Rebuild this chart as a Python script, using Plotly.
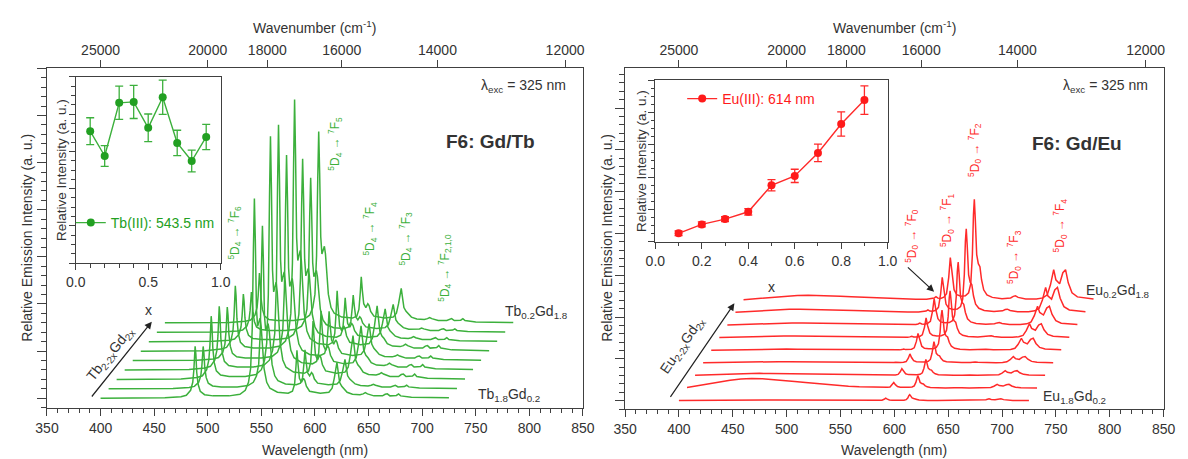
import numpy as np
import plotly.graph_objects as go

W, H = 1188, 459

# ---------------- data ----------------
x_frac = [0.1, 0.2, 0.3, 0.4, 0.5, 0.6, 0.7, 0.8, 0.9]
tb_inset = [7.08, 5.75, 8.60, 8.65, 7.26, 8.90, 6.45, 5.48, 6.77]
tb_inset_err = [0.72, 0.56, 0.89, 0.89, 0.74, 0.92, 0.68, 0.58, 0.68]
eu_inset = [0.52, 1.07, 1.40, 1.85, 3.49, 4.07, 5.49, 7.28, 8.76]
eu_inset_err = [0.15, 0.15, 0.15, 0.20, 0.35, 0.41, 0.54, 0.75, 0.88]

# Tb(III) emission profile (unshifted wavelength, intensity relative to 543.5 nm line)
tb_wl = [400, 460, 475, 480, 484, 486, 487, 487.6, 488.2, 488.9, 489.7, 491, 493, 497, 505,
         520, 530, 535, 538, 540, 541.5, 542.6, 543.5, 544.4, 545.4, 546.5, 547.8, 548.8,
         549.8, 551, 552.5, 555, 558, 565, 575, 579, 581, 582.3, 583.2, 584.2, 585.5, 587.5,
         589.3, 590.5, 592, 595, 605, 613, 616, 618, 619.5, 620.5, 621.5, 623, 625, 627, 630,
         635, 642, 645, 647, 649, 655, 663, 665.5, 667.5, 670, 676, 678, 680, 690, 725]
tb_rel = [0.0, 0.002, 0.008, 0.015, 0.04, 0.08, 0.14, 0.21, 0.26, 0.22, 0.13, 0.07, 0.035, 0.018, 0.012,
          0.012, 0.02, 0.04, 0.08, 0.15, 0.35, 0.75, 1.0, 0.78, 0.45, 0.36, 0.38, 0.40,
          0.36, 0.25, 0.15, 0.08, 0.05, 0.03, 0.025, 0.035, 0.07, 0.16, 0.24, 0.17, 0.10, 0.08,
          0.10, 0.09, 0.06, 0.035, 0.025, 0.03, 0.05, 0.10, 0.16, 0.18, 0.14, 0.08, 0.06, 0.05, 0.03,
          0.02, 0.018, 0.022, 0.028, 0.022, 0.012, 0.012, 0.02, 0.022, 0.012, 0.014, 0.022, 0.012, 0.005, 0.002]
tb_peak_height = [21.2, 17.3, 25.8, 26.0, 21.8, 26.7, 19.4, 16.4, 20.3]

# Eu(III) emission profile (unshifted wavelength, relative to 614 nm line) + broad host band
eu_wl = [400, 410, 420, 430, 440, 450, 460, 470, 480, 490, 500, 510, 520, 530, 540, 550, 560,
         570, 575, 577, 578.7, 580.5, 583, 586, 588.5, 590.5, 592, 593.5, 595.5, 598, 602, 606,
         609, 611, 612.5, 613.5, 614.3, 615.2, 616.5, 618, 619.5, 621, 623, 626, 631, 640, 648,
         650.5, 652.5, 655, 662, 672, 678, 682, 685, 688, 690, 693.5, 696.5, 699, 701.5, 705,
         710, 725]
eu_rel = [0, 0, 0, 0, 0, 0, 0, 0, 0, 0, 0, 0, 0, 0, 0, 0, 0,
          0.003, 0.008, 0.015, 0.03, 0.015, 0.012, 0.025, 0.06, 0.22, 0.42, 0.25, 0.10, 0.05, 0.035, 0.04,
          0.07, 0.16, 0.45, 0.85, 1.0, 0.80, 0.45, 0.36, 0.33, 0.20, 0.10, 0.05, 0.025, 0.012, 0.02,
          0.035, 0.04, 0.025, 0.01, 0.01, 0.02, 0.05, 0.15, 0.30, 0.20, 0.16, 0.27, 0.30, 0.17, 0.07,
          0.03, 0.01]
eu_band = [0.05, 0.25, 0.45, 0.65, 0.82, 0.95, 1.0, 0.97, 0.90, 0.80, 0.69, 0.58, 0.47, 0.37, 0.28, 0.20, 0.14,
           0.09, 0.07, 0.065, 0.06, 0.055, 0.05, 0.045, 0.04, 0.037, 0.035, 0.032, 0.03, 0.027, 0.024, 0.02,
           0.018, 0.016, 0.015, 0.014, 0.013, 0.012, 0.01, 0.009, 0.008, 0.006, 0.004, 0.002, 0, 0, 0,
           0, 0, 0, 0, 0, 0, 0, 0, 0, 0, 0, 0, 0, 0, 0,
           0, 0]
eu_peak_height = [0.71, 1.47, 1.92, 2.54, 4.80, 5.59, 7.54, 10.0, 12.04]
eu_band_height = [0.10, 1.15, 0.25, 0.15, 0.15, 0.20, 0.25, 0.40, 0.55]

wn_ticks = [25000, 20000, 18000, 16000, 14000, 12000]

# waterfall offsets (layout)
SHIFT_NM = 7.5
TB_STEP = 1.0
EU_STEP = 1.506

GREEN = "#3cb03c"
GREEN_D = "#22a022"
RED = "#ff2a2a"
RED_D = "#ff1a1a"
AX = "#404040"
TXT = "#333333"
FONT = "Liberation Sans, Arial, sans-serif"


def dx(a, b):
    return [a / W, b / W]


def dy(top, bottom):
    return [1 - bottom / H, 1 - top / H]


def P(x, y):
    return x / W, 1 - y / H


fig = go.Figure()

# ---- main spectra ----
for k in range(9):
    fig.add_trace(go.Scatter(
        x=np.array(tb_wl) + SHIFT_NM * k,
        y=1 + TB_STEP * k + tb_peak_height[k] * np.array(tb_rel),
        mode="lines", line=dict(color=GREEN, width=1.5), xaxis="x", yaxis="y",
        showlegend=False, hoverinfo="skip"))
for k in range(9):
    fig.add_trace(go.Scatter(
        x=np.array(eu_wl) + SHIFT_NM * k,
        y=1 + EU_STEP * k + eu_peak_height[k] * np.array(eu_rel) + eu_band_height[k] * np.array(eu_band),
        mode="lines", line=dict(color=RED, width=1.5), xaxis="x4", yaxis="y4",
        showlegend=False, hoverinfo="skip"))

# invisible traces to materialise the top wavenumber axes
fig.add_trace(go.Scatter(x=[400], y=[-10], xaxis="x2", yaxis="y", mode="markers",
                         marker=dict(opacity=0), showlegend=False, hoverinfo="skip"))
fig.add_trace(go.Scatter(x=[400], y=[-10], xaxis="x5", yaxis="y4", mode="markers",
                         marker=dict(opacity=0), showlegend=False, hoverinfo="skip"))

# ---- insets ----
fig.add_trace(go.Scatter(
    x=x_frac, y=tb_inset, mode="lines+markers", name="Tb(III): 543.5 nm",
    line=dict(color=GREEN, width=1.4), marker=dict(color=GREEN_D, size=8),
    error_y=dict(type="data", array=tb_inset_err, color=GREEN, thickness=1.3, width=4),
    xaxis="x3", yaxis="y3", legend="legend"))
fig.add_trace(go.Scatter(
    x=x_frac, y=eu_inset, mode="lines+markers", name="Eu(III): 614 nm",
    line=dict(color=RED, width=1.4), marker=dict(color=RED_D, size=8),
    error_y=dict(type="data", array=eu_inset_err, color=RED, thickness=1.3, width=4),
    xaxis="x6", yaxis="y6", legend="legend2"))

tickfont = dict(family=FONT, size=14, color=TXT)
common_x = dict(showline=True, linecolor=AX, linewidth=1.3, ticks="outside", tickcolor=AX,
                tickwidth=1.3, showgrid=False, zeroline=False, tickfont=tickfont)
common_y = dict(showline=True, linecolor=AX, linewidth=1.3, ticks="outside", tickcolor=AX,
                tickwidth=1.3, showgrid=False, zeroline=False, showticklabels=False)

wl_major = [350, 400, 450, 500, 550, 600, 650, 700, 750, 800, 850]
top_vals = [1e7 / w for w in wn_ticks]
top_text = [str(w) for w in wn_ticks]

layout = dict(
    width=W, height=H, margin=dict(l=0, r=0, t=0, b=0),
    paper_bgcolor="white", plot_bgcolor="rgba(0,0,0,0)",
    font=dict(family=FONT, color=TXT),
    # left main
    xaxis=dict(domain=dx(35.7, 582.7), anchor="y", range=[350, 850], tickvals=wl_major,
               ticklen=7, mirror=True,
               minor=dict(ticks="outside", dtick=10, tick0=350, ticklen=4, tickcolor=AX, tickwidth=1.2),
               **common_x),
    xaxis2=dict(overlaying="x", side="top", anchor="y", range=[350, 850], tickvals=top_vals,
                ticktext=top_text, ticklen=7, **common_x),
    yaxis=dict(domain=dy(68.3, 407.7), anchor="x", range=[0, 36], tickvals=[1, 6, 11, 16, 21, 26, 31, 36],
               ticklen=9, mirror=True,
               minor=dict(ticks="outside", dtick=1, tick0=0, ticklen=5, tickcolor=AX, tickwidth=1.2),
               **common_y),
    # left inset
    xaxis3=dict(domain=dx(65, 213), anchor="y3", range=[0, 1.0], tickvals=[0, 0.5, 1.0],
                ticktext=["0.0", "0.5", "1.0"], ticklen=6, mirror=True,
                minor=dict(ticks="outside", dtick=0.1, ticklen=3.5, tickcolor=AX, tickwidth=1.2),
                **common_x),
    yaxis3=dict(domain=dy(76.7, 263.3), anchor="x3", range=[0, 10], dtick=2, ticklen=6, mirror=True,
                minor=dict(ticks="outside", dtick=0.5, ticklen=3.5, tickcolor=AX, tickwidth=1.2),
                **common_y),
    # right main
    xaxis4=dict(domain=dx(625.7, 1175.3), anchor="y4", range=[350, 850], tickvals=wl_major,
                ticklen=7, mirror=True,
                minor=dict(ticks="outside", dtick=10, tick0=350, ticklen=4, tickcolor=AX, tickwidth=1.2),
                **common_x),
    xaxis5=dict(overlaying="x4", side="top", anchor="y4", range=[350, 850], tickvals=top_vals,
                ticktext=top_text, ticklen=7, **common_x),
    yaxis4=dict(domain=dy(68.3, 409), anchor="x4", range=[0, 40.75], tickvals=[1, 6, 11, 16, 21, 26, 31, 36],
                ticklen=9, mirror=True,
                minor=dict(ticks="outside", dtick=1, tick0=0, ticklen=5, tickcolor=AX, tickwidth=1.2),
                **common_y),
    # right inset
    xaxis6=dict(domain=dx(656.6, 893.7), anchor="y6", range=[0, 1.0], tickvals=[0, 0.2, 0.4, 0.6, 0.8, 1.0],
                ticktext=["0.0", "0.2", "0.4", "0.6", "0.8", "1.0"], ticklen=6, mirror=True,
                minor=dict(ticks="outside", dtick=0.1, ticklen=3.5, tickcolor=AX, tickwidth=1.2),
                **common_x),
    yaxis6=dict(domain=dy(80, 241.7), anchor="x6", range=[0, 10], dtick=2, ticklen=6, mirror=True,
                minor=dict(ticks="outside", dtick=0.5, ticklen=3.5, tickcolor=AX, tickwidth=1.2),
                **common_y),
    legend=dict(x=60 / W, y=1 - 223 / H, xanchor="left", yanchor="middle", bgcolor="rgba(0,0,0,0)",
                font=dict(family=FONT, size=14, color=GREEN_D), itemwidth=30),
    legend2=dict(x=684 / W, y=1 - 99 / H, xanchor="left", yanchor="middle", bgcolor="rgba(0,0,0,0)",
                 font=dict(family=FONT, size=14, color=RED_D), itemwidth=30),
)
fig.update_layout(**layout)

ann = []


def text(t, x, y, size=14, color=TXT, angle=0, xanchor="center", yanchor="middle"):
    px_, py_ = P(x, y)
    ann.append(dict(text=t, x=px_, y=py_, xref="paper", yref="paper", showarrow=False,
                    textangle=angle, xanchor=xanchor, yanchor=yanchor,
                    font=dict(family=FONT, size=size, color=color)))


def arrow(x0, y0, x1, y1):
    px_, py_ = P(x1, y1)
    ann.append(dict(text="", x=px_, y=py_, xref="paper", yref="paper", showarrow=True,
                    ax=x0 - x1, ay=y0 - y1, axref="pixel", ayref="pixel",
                    arrowhead=2, arrowsize=1.2, arrowwidth=1.2, arrowcolor="#222222"))


for cx in (309.2, 900.5):
    text("Wavenumber (cm<sup>-1</sup>)", cx, 27, 14)
    text("Wavelength (nm)", cx, 450, 14)
text("Relative Emission Intensity (a. u.)", 15, 238, 14, angle=-90)
text("Relative Emission Intensity (a. u.)", 607, 238, 14, angle=-90)
text("Relative Intensity (a. u.)", 50, 170, 13.5, angle=-90)
text("Relative Intensity (a. u.)", 643, 161, 13.5, angle=-90)
text("λ<sub>exc</sub> = 325 nm", 567, 86, 14, xanchor="right")
text("λ<sub>exc</sub> = 325 nm", 1161, 86, 14, xanchor="right")
text("<b>F6: Gd/Tb</b>", 488, 142, 19)
text("<b>F6: Gd/Eu</b>", 1087, 143, 19)

tb_labels = [("6", 226.7, 232.5), ("5", 330, 143.3), ("4", 365.7, 228.3), ("3", 401.7, 239),
             ("2,1,0", 441.7, 268)]
for lab, x, y in tb_labels:
    text("<sup>5</sup>D<sub>4</sub> → <sup>7</sup>F<sub>%s</sub>" % lab, x, y, 12, GREEN, angle=-90)
eu_labels = [("0", 918.4, 236), ("1", 954.4, 220), ("2", 982.8, 150), ("3", 1022.7, 257),
             ("4", 1070, 225)]
for lab, x, y in eu_labels:
    text("<sup>5</sup>D<sub>0</sub> → <sup>7</sup>F<sub>%s</sub>" % lab, x, y, 12, RED, angle=-90)

text("Tb<sub>0.2</sub>Gd<sub>1.8</sub>", 535.8, 311.7, 14)
text("Tb<sub>1.8</sub>Gd<sub>0.2</sub>", 507, 395, 14)
text("Eu<sub>0.2</sub>Gd<sub>1.8</sub>", 1129, 291, 14)
text("Eu<sub>1.8</sub>Gd<sub>0.2</sub>", 1084, 397, 14)
text("x", 139.7, 310, 14)
text("x", 775.3, 286.7, 14)
text("Tb<sub>2-2x</sub>Gd<sub>2x</sub>", 100.5, 354, 14, angle=-51)
text("Eu<sub>2-2x</sub>Gd<sub>2x</sub>", 684, 346, 14, angle=-55.6)
arrow(81.5, 398, 142.7, 321.7)
arrow(672.3, 398.3, 737.3, 303.3)
arrow(913.4, 266, 941.1, 291.7)

fig.update_layout(annotations=ann)
fig.write_html("out.html")
